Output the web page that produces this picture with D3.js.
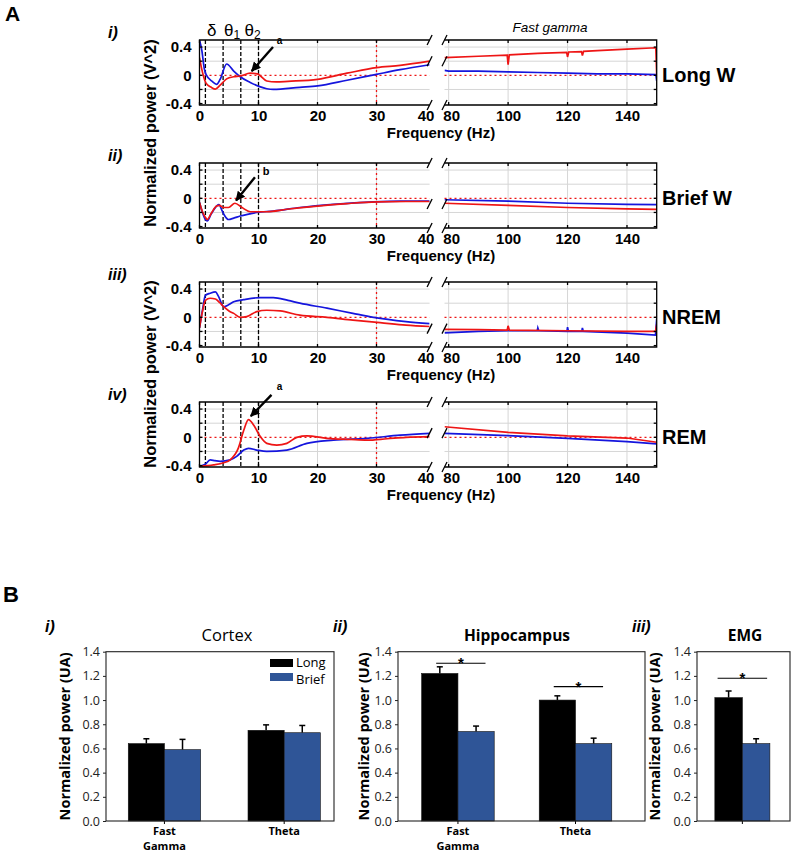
<!DOCTYPE html>
<html><head><meta charset="utf-8">
<script src="https://cdn.jsdelivr.net/npm/d3@7"></script>
<style>body{margin:0;background:#fff}</style>
</head><body>
<svg id="c" width="792" height="853" xmlns="http://www.w3.org/2000/svg"></svg>
<script>
// ---------------- DATA (panel A: normalized power spectra) ----------------
// pairs of [frequency Hz, normalized power]
const longW_red_low  = [[0,0.25],[0.3,0.12],[0.7,-0.02],[1.1,-0.11],[2,-0.17],[2.7,-0.195],[3.5,-0.14],[4.6,-0.05],[5.8,-0.02],[6.9,-0.01],[8.6,0.03],[9.8,0.02],[11.4,-0.08],[13,-0.094],[15,-0.085],[20,-0.056],[25,0.03],[30,0.11],[34,0.14],[39,0.2]];
const longW_blue_low = [[0,0.5],[0.4,0.35],[0.8,0.1],[1.1,0.014],[2.2,-0.09],[2.9,-0.127],[3.5,-0.056],[4.6,0.16],[5.8,0.06],[6.9,-0.02],[8.6,-0.1],[10.2,-0.16],[11.4,-0.19],[12.5,-0.2],[17,-0.17],[20,-0.15],[25,-0.07],[30,0.014],[34,0.08],[39,0.15]];
const longW_red_high  = [[78.6,0.25],[90,0.27],[99.7,0.285],[100,0.15],[100.4,0.29],[110,0.31],[119.7,0.325],[120,0.26],[120.4,0.33],[124.7,0.335],[125,0.28],[125.4,0.34],[130,0.35],[140,0.37],[149.7,0.39],[150,0.0]];
const longW_blue_high = [[78.6,0.07],[80,0.06],[90,0.06],[100,0.05],[110,0.04],[120,0.03],[130,0.02],[140,0.02],[149.7,0.01],[150,-0.08]];

const briefW_red_low  = [[0,-0.06],[0.5,-0.19],[1,-0.27],[1.3,-0.3],[2,-0.21],[2.9,-0.11],[3.4,-0.1],[4,-0.13],[4.9,-0.13],[6,-0.07],[7.2,-0.13],[8.6,-0.19],[11.4,-0.19],[14.8,-0.155],[20,-0.11],[25,-0.075],[30,-0.05],[35,-0.045],[39,-0.045]];
const briefW_blue_low = [[0,-0.06],[0.5,-0.2],[1,-0.3],[1.3,-0.32],[2,-0.22],[2.9,-0.11],[3.3,-0.09],[3.8,-0.17],[4.3,-0.25],[4.9,-0.3],[5.8,-0.28],[6.9,-0.25],[8.5,-0.22],[9.7,-0.2],[12.5,-0.18],[17,-0.13],[22.7,-0.085],[29.5,-0.05],[34,-0.04],[39,-0.04]];
const briefW_red_high  = [[78.6,-0.07],[100,-0.1],[120,-0.13],[140,-0.15],[150,-0.155]];
const briefW_blue_high = [[78.6,-0.02],[100,-0.04],[120,-0.07],[140,-0.085],[150,-0.09]];

const nrem_red_low  = [[0,-0.15],[0.5,0.08],[1,0.24],[1.8,0.27],[2.7,0.26],[3.4,0.21],[4.1,0.15],[5,0.09],[5.8,0.056],[6.9,0.0],[8,0.01],[9.7,0.08],[11.4,0.1],[13.7,0.09],[17,0.03],[21.6,0.0],[26,-0.04],[30.6,-0.075],[35,-0.11],[39,-0.13]];
const nrem_blue_low = [[0,-0.15],[0.5,0.1],[1,0.31],[1.8,0.34],[2.7,0.36],[3.2,0.3],[4.1,0.15],[5,0.18],[5.8,0.22],[7.5,0.25],[10.3,0.28],[12.5,0.28],[15,0.24],[17,0.2],[21.6,0.13],[26,0.056],[29.5,0.0],[35,-0.06],[39,-0.09]];
const nrem_red_high  = [[78.6,-0.17],[90,-0.175],[99.7,-0.18],[100,-0.12],[100.4,-0.18],[120,-0.19],[140,-0.2],[149.6,-0.2],[150,-0.1]];
const nrem_blue_high = [[78.6,-0.22],[90,-0.2],[100,-0.19],[109.8,-0.19],[110,-0.15],[110.3,-0.19],[119.8,-0.2],[120,-0.14],[120.3,-0.2],[124.8,-0.2],[125,-0.15],[125.3,-0.2],[140,-0.225],[149.6,-0.25],[150,-0.02]];

const rem_red_low  = [[0,-0.41],[2.4,-0.39],[4.1,-0.36],[5.2,-0.32],[6.6,-0.15],[7.5,0.1],[8.3,0.25],[9.2,0.17],[10.3,0.01],[11.4,-0.085],[13.1,-0.11],[14.8,-0.085],[16.5,0.0],[18.2,0.02],[21.6,-0.014],[25.5,-0.03],[28.4,-0.04],[31.8,-0.02],[35,0.0],[39,0.01]];
const rem_blue_low = [[0,-0.41],[1,-0.38],[1.8,-0.32],[2.6,-0.33],[3.5,-0.34],[5.2,-0.32],[6.3,-0.27],[7.5,-0.18],[8.3,-0.155],[9.7,-0.18],[11.4,-0.2],[14.8,-0.18],[18.2,-0.085],[22.7,-0.04],[28.4,-0.014],[34,0.03],[39,0.056]];
const rem_red_high  = [[78.6,0.15],[100,0.07],[120,0.02],[140,-0.01],[150,-0.07]];
const rem_blue_high = [[78.6,0.056],[100,0.023],[120,-0.014],[140,-0.06],[150,-0.094]];

const stateNames = ["Long W","Brief W","NREM","REM"];
const panelKeys = ["i)","ii)","iii)","iv)"];
const bandEdges = [1,4,7,10];           // delta / theta1 / theta2 limits
const lowTicks = [0,10,20,30,39];        // last tick labelled "40" at the axis break
const highTicks = [80,100,120,140];
const yTicksA = [-0.4,0,0.4];
const yGridA = [-0.2,0.2,0.4];

// ---------------- DATA (panel B: bar charts) ----------------
const barCats2 = ["Fast Gamma","Theta"];
const cortexLong = [0.64,0.75],  cortexLongErr = [0.04,0.045];
const cortexBrief = [0.59,0.73], cortexBriefErr = [0.085,0.06];
const hippoLong = [1.22,1.00],   hippoLongErr = [0.055,0.035];
const hippoBrief = [0.74,0.64],  hippoBriefErr = [0.045,0.045];
const emgCats = ["EMG"];
const emgLong = [1.02],  emgLongErr = [0.055];
const emgBrief = [0.64], emgBriefErr = [0.04];
const barTicks = [0,0.2,0.4,0.6,0.8,1.0,1.2,1.4];

// ---------------- DRAW ----------------
const svg = d3.select("#c");
const FA = "'Liberation Sans', Arial, sans-serif";
const FB = "'Open Sans', sans-serif";
const RED = "#ee1515", BLUE = "#1515dd";

svg.append("text").attr("x",5).attr("y",21).text("A")
  .attr("font-family",FA).attr("font-weight","bold").attr("font-size",21);

const defs = svg.append("defs");
defs.append("marker").attr("id","arr").attr("viewBox","0 0 10 10").attr("refX",9).attr("refY",5)
  .attr("markerWidth",4).attr("markerHeight",4).attr("orient","auto")
  .append("path").attr("d","M0,0 L10,5 L0,10 z").attr("fill","#000");

const xL = d3.scaleLinear().domain([0,39]).range([199.5,429.6]);
const xR = d3.scaleLinear().domain([78.6,150]).range([444.5,656.7]);
const HA = 65;
const yDomA = [-0.42,0.5];

const panels = [
  {top:40,  red:[longW_red_low,longW_red_high],   blue:[longW_blue_low,longW_blue_high],   brk:0.2,  arrow:{from:[12.46,0.40],to:[8.85,0.06],lab:"a",at:[13.1,0.44]}},
  {top:163, red:[briefW_red_low,briefW_red_high], blue:[briefW_blue_low,briefW_blue_high], brk:-0.08, arrow:{from:[9.4,0.30],to:[6.2,-0.03],lab:"b",at:[10.7,0.33]}},
  {top:282, red:[nrem_red_low,nrem_red_high],     blue:[nrem_blue_low,nrem_blue_high],     brk:-0.16, arrow:null},
  {top:402, red:[rem_red_low,rem_red_high],       blue:[rem_blue_low,rem_blue_high],       brk:0.06, arrow:{from:[12.2,0.60],to:[8.7,0.30],lab:"a",at:[13.1,0.67]}}
];

panels.forEach((p,i)=>{
  const T = p.top, B = T+HA;
  const y = d3.scaleLinear().domain(yDomA).range([B,T]);
  const g = svg.append("g");
  const cid = "clipA"+i;
  const cp = defs.append("clipPath").attr("id",cid);
  cp.append("rect").attr("x",xL(0)).attr("y",T).attr("width",xL(39)-xL(0)).attr("height",HA);
  cp.append("rect").attr("x",xR(78.6)).attr("y",T).attr("width",xR(150)-xR(78.6)).attr("height",HA);

  // grid
  const grid = g.append("g").attr("stroke","#d6d6d6").attr("stroke-width",1);
  yGridA.forEach(v=>{
    grid.append("line").attr("x1",xL(0)).attr("x2",xL(39)).attr("y1",y(v)).attr("y2",y(v));
    grid.append("line").attr("x1",xR(78.6)).attr("x2",xR(150)).attr("y1",y(v)).attr("y2",y(v));
  });
  [10,20,30].forEach(f=>grid.append("line").attr("x1",xL(f)).attr("x2",xL(f)).attr("y1",T).attr("y2",B));
  highTicks.forEach(f=>grid.append("line").attr("x1",xR(f)).attr("x2",xR(f)).attr("y1",T).attr("y2",B));

  // red dotted reference lines
  const ref = g.append("g").attr("stroke",RED).attr("stroke-width",1.3).attr("stroke-dasharray","2,3");
  ref.append("line").attr("x1",xL(0)).attr("x2",xL(39)).attr("y1",y(0)).attr("y2",y(0));
  ref.append("line").attr("x1",xR(78.6)).attr("x2",xR(150)).attr("y1",y(0)).attr("y2",y(0));
  ref.append("line").attr("x1",xL(30)).attr("x2",xL(30)).attr("y1",T).attr("y2",B);

  // band limits (black dashed)
  const bl = g.append("g").attr("stroke","#000").attr("stroke-width",1.3).attr("stroke-dasharray","4,2");
  bandEdges.forEach(f=>bl.append("line").attr("x1",xL(f)).attr("x2",xL(f)).attr("y1",T).attr("y2",B));

  // spectra
  const lineL = d3.line().x(d=>xL(d[0])).y(d=>y(d[1])).curve(d3.curveMonotoneX);
  const lineR = d3.line().x(d=>xR(d[0])).y(d=>y(d[1]));
  const dg = g.append("g").attr("clip-path",`url(#${cid})`).attr("fill","none").attr("stroke-width",1.7);
  dg.append("path").attr("d",lineL(p.blue[0])).attr("stroke",BLUE);
  dg.append("path").attr("d",lineL(p.red[0])).attr("stroke",RED);
  dg.append("path").attr("d",lineR(p.blue[1])).attr("stroke",BLUE);
  dg.append("path").attr("d",lineR(p.red[1])).attr("stroke",RED);

  // frame
  const fr = g.append("g").attr("fill","none").attr("stroke","#000").attr("stroke-width",1.3);
  fr.append("path").attr("d",`M${xL(39)},${T}H${xL(0)}V${B}H${xL(39)}`);
  fr.append("path").attr("d",`M${xR(78.6)},${T}H${xR(150)}V${B}H${xR(78.6)}`);
  // inner ticks
  [0,10,20,30].forEach(f=>{
    fr.append("line").attr("x1",xL(f)).attr("x2",xL(f)).attr("y1",T).attr("y2",T+3);
    fr.append("line").attr("x1",xL(f)).attr("x2",xL(f)).attr("y1",B).attr("y2",B-3);
  });
  highTicks.forEach(f=>{
    fr.append("line").attr("x1",xR(f)).attr("x2",xR(f)).attr("y1",T).attr("y2",T+3);
    fr.append("line").attr("x1",xR(f)).attr("x2",xR(f)).attr("y1",B).attr("y2",B-3);
  });
  [-0.4,-0.2,0,0.2,0.4].forEach(v=>{
    fr.append("line").attr("x1",xL(0)).attr("x2",xL(0)+3).attr("y1",y(v)).attr("y2",y(v));
    fr.append("line").attr("x1",xR(150)).attr("x2",xR(150)-3).attr("y1",y(v)).attr("y2",y(v));
  });
  // break marks
  [xL(39), xR(78.6)].forEach(bx=>{
    [T, y(p.brk), B].forEach(by=>{
      fr.append("line").attr("x1",bx-2.5).attr("y1",by+5).attr("x2",bx+2.5).attr("y2",by-5);
    });
  });

  // axes
  const fmtY = d=> d===0 ? "0" : (d<0?"-":"")+Math.abs(d).toFixed(1);
  const ax = g.append("g").attr("transform",`translate(${xL(0)},0)`)
    .call(d3.axisLeft(y).tickValues(yTicksA).tickFormat(fmtY).tickSize(0).tickPadding(8));
  const bx1 = g.append("g").attr("transform",`translate(0,${B})`)
    .call(d3.axisBottom(xL).tickValues(lowTicks).tickFormat(d=>d===39?"40":d).tickSize(0).tickPadding(5));
  bx1.selectAll(".tick text").filter(d=>d===39).attr("dx",-4);
  const bx2 = g.append("g").attr("transform",`translate(0,${B})`)
    .call(d3.axisBottom(xR).tickValues(highTicks).tickSize(0).tickPadding(5));
  bx2.selectAll(".tick text").filter(d=>d===80).attr("dx",2.5);
  [ax,bx1,bx2].forEach(a=>{
    a.select(".domain").remove();
    a.selectAll("text").attr("font-family",FA).attr("font-weight","bold").attr("font-size",15).attr("fill","#000");
  });

  g.append("text").attr("x",441).attr("y",B+32.5).attr("text-anchor","middle")
    .attr("font-family",FA).attr("font-weight","bold").attr("font-size",15).text("Frequency (Hz)");
  g.append("text").attr("x",662).attr("y",T+42).attr("font-family",FA).attr("font-weight","bold")
    .attr("font-size",20).text(stateNames[i]);
  g.append("text").attr("x",108).attr("y",T-2).attr("font-family",FA).attr("font-weight","bold")
    .attr("font-style","italic").attr("font-size",16).text(panelKeys[i]);

  if(p.arrow){
    g.append("line").attr("x1",xL(p.arrow.from[0])).attr("y1",y(p.arrow.from[1]))
      .attr("x2",xL(p.arrow.to[0])).attr("y2",y(p.arrow.to[1]))
      .attr("stroke","#000").attr("stroke-width",2.4).attr("marker-end","url(#arr)");
    g.append("text").attr("x",xL(p.arrow.at[0])).attr("y",y(p.arrow.at[1])).attr("font-family",FA)
      .attr("font-weight","bold").attr("font-size",p.arrow.lab==="b"?11:10).text(p.arrow.lab);
  }
  if(i===0){
    const gl = g.append("g").attr("font-family",FA).attr("font-size",17);
    gl.append("text").attr("x",211.7).attr("y",T-4).attr("text-anchor","middle").text("δ");
    const t1 = gl.append("text").attr("x",224).attr("y",T-4);
    t1.append("tspan").text("θ"); t1.append("tspan").attr("font-size",12).attr("dy",3).text("1");
    const t2 = gl.append("text").attr("x",244.5).attr("y",T-4);
    t2.append("tspan").text("θ"); t2.append("tspan").attr("font-size",12).attr("dy",3).text("2");
    g.append("text").attr("x",550).attr("y",T-8).attr("text-anchor","middle").attr("font-family",FA)
      .attr("font-style","italic").attr("font-size",13.5).text("Fast gamma");
  }
});

// y labels for panel A (shared by pairs of rows)
[[150,133],[150,374]].forEach(([x,yc])=>{
  svg.append("text").attr("transform",`translate(${x+6},${yc}) rotate(-90)`).attr("text-anchor","middle")
    .attr("font-family",FA).attr("font-weight","bold").attr("font-size",16.5).text("Normalized power (V^2)");
});

// ---------------- PANEL B ----------------
svg.append("text").attr("x",3).attr("y",602).text("B")
  .attr("font-family",FA).attr("font-weight","bold").attr("font-size",22);

const yB = d3.scaleLinear().domain([0,1.4]).range([821,651.7]);
const barPanels = [
  {key:"i)", keyX:45, title:"Cortex", titleX:227, bold:false, cats:barCats2, x0:106, x1:334, pi:0.396, po:0.15, align:0.62,
   long:cortexLong, longErr:cortexLongErr, brief:cortexBrief, briefErr:cortexBriefErr, ylabX:65, legend:true, sig:[], sigSpan:null},
  {key:"ii)", keyX:333, title:"Hippocampus", titleX:517, bold:true, cats:barCats2, x0:398, x1:645, pi:0.383, po:0.242, align:0.416,
   long:hippoLong, longErr:hippoLongErr, brief:hippoBrief, briefErr:hippoBriefErr, ylabX:364, legend:false, sig:[1.304,1.111], sigSpan:[0.2,0.88]},
  {key:"iii)", keyX:632, title:"EMG", titleX:745, bold:true, cats:emgCats, x0:697, x1:790, pi:0, po:0.345, align:0.47,
   long:emgLong, longErr:emgLongErr, brief:emgBrief, briefErr:emgBriefErr, ylabX:655, legend:false, sig:[1.18], sigSpan:[0.05,0.95]}
];
const LONGC = "#000", BRIEFC = "#2f5597";

barPanels.forEach(bp=>{
  const g = svg.append("g");
  const x0 = d3.scaleBand().domain(bp.cats).range([bp.x0,bp.x1]).paddingInner(bp.pi).paddingOuter(bp.po).align(bp.align);
  const x1 = d3.scaleBand().domain(["Long","Brief"]).range([0,x0.bandwidth()]);
  const rows = bp.cats.map((c,i)=>({c, v:[bp.long[i],bp.brief[i]], e:[bp.longErr[i],bp.briefErr[i]]}));
  rows.forEach(r=>{
    ["Long","Brief"].forEach((s,j)=>{
      const bx = x0(r.c)+x1(s), bw = x1.bandwidth();
      g.append("line").attr("x1",bx+bw/2).attr("x2",bx+bw/2).attr("y1",yB(r.v[j])).attr("y2",yB(r.v[j]+r.e[j]))
        .attr("stroke","#000").attr("stroke-width",1.5);
      g.append("line").attr("x1",bx+bw/2-3).attr("x2",bx+bw/2+3).attr("y1",yB(r.v[j]+r.e[j])).attr("y2",yB(r.v[j]+r.e[j]))
        .attr("stroke","#000").attr("stroke-width",1.5);
      g.append("rect").attr("x",bx).attr("y",yB(r.v[j])).attr("width",bw).attr("height",yB(0)-yB(r.v[j]))
        .attr("fill",j===0?LONGC:BRIEFC).attr("stroke","#111").attr("stroke-width",0.6);
    });
    g.append("line").attr("x1",x0(r.c)+x0.bandwidth()/2).attr("x2",x0(r.c)+x0.bandwidth()/2)
      .attr("y1",yB(0)).attr("y2",yB(0)+3).attr("stroke","#000");
  });
  // significance
  bp.sig.forEach((sv,i)=>{
    const c = bp.cats[i], bw = x0.bandwidth();
    const xa = x0(c)+bp.sigSpan[0]*bw, xb = x0(c)+bp.sigSpan[1]*bw;
    g.append("line").attr("x1",xa).attr("x2",xb).attr("y1",yB(sv)).attr("y2",yB(sv)).attr("stroke","#000").attr("stroke-width",1.1);
    g.append("text").attr("x",(xa+xb)/2).attr("y",yB(sv)+5).attr("text-anchor","middle")
      .attr("font-family",FA).attr("font-weight","bold").attr("font-size",15).text("*");
  });
  // frame
  g.append("rect").attr("x",bp.x0).attr("y",yB(1.4)).attr("width",bp.x1-bp.x0).attr("height",yB(0)-yB(1.4))
    .attr("fill","none").attr("stroke","#222").attr("stroke-width",1.1);
  const ax = g.append("g").attr("transform",`translate(${bp.x0},0)`)
    .call(d3.axisLeft(yB).tickValues(barTicks).tickFormat(d3.format(".1f")).tickSize(3).tickPadding(3));
  ax.select(".domain").remove();
  ax.selectAll("text").attr("font-family",FB).attr("font-size",12.5).attr("fill","#222");
  ax.selectAll("line").attr("stroke","#222");
  // category labels
  if(bp.cats.length>1){
    bp.cats.forEach(c=>{
      const t = g.append("text").attr("x",x0(c)+x0.bandwidth()/2).attr("y",835).attr("text-anchor","middle")
        .attr("font-family",FB).attr("font-weight","bold").attr("font-size",11);
      const parts = c.split(" ");
      parts.forEach((w,k)=>t.append("tspan").attr("x",x0(c)+x0.bandwidth()/2).attr("dy",k?15:0).text(w));
    });
  }
  g.append("text").attr("x",bp.titleX).attr("y",641).attr("text-anchor","middle").attr("font-family",FB)
    .attr("font-weight",bp.bold?"bold":"normal").attr("font-size",bp.bold?15.5:16.5).text(bp.title);
  g.append("text").attr("x",bp.keyX).attr("y",632).attr("font-family",FA).attr("font-weight","bold")
    .attr("font-style","italic").attr("font-size",16).text(bp.key);
  g.append("text").attr("transform",`translate(${bp.ylabX+5},${(yB(0)+yB(1.4))/2}) rotate(-90)`).attr("text-anchor","middle")
    .attr("font-family",FB).attr("font-weight","bold").attr("font-size",14.5).text("Normalized power (UA)");
  if(bp.legend){
    const lg = g.append("g").attr("font-family",FB).attr("font-size",13);
    [["Long",LONGC],["Brief",BRIEFC]].forEach(([n,col],k)=>{
      lg.append("rect").attr("x",270).attr("y",659+k*14).attr("width",23).attr("height",8).attr("fill",col);
      lg.append("text").attr("x",296).attr("y",667+k*17).text(n);
    });
  }
});
</script>
</body></html>
